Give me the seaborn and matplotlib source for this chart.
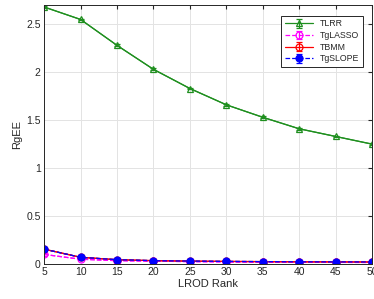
import matplotlib
matplotlib.use("Agg")

import matplotlib.pyplot as plt
import numpy as np
import pandas as pd
import seaborn as sns

ranks = [5, 10, 15, 20, 25, 30, 35, 40, 45, 50]
tlrr = [2.68, 2.55, 2.28, 2.03, 1.83, 1.66, 1.53, 1.41, 1.33, 1.25]
tglasso = [0.10, 0.05, 0.035, 0.03, 0.025, 0.022, 0.02, 0.018, 0.017, 0.016]
tbmm = [0.155, 0.07, 0.045, 0.035, 0.03, 0.027, 0.025, 0.023, 0.022, 0.021]
tgslope = [0.155, 0.07, 0.045, 0.035, 0.03, 0.027, 0.025, 0.023, 0.022, 0.021]
err = [0.012, 0.01, 0.01, 0.01, 0.01, 0.01, 0.01, 0.01, 0.01, 0.01]

series = [
    ("TLRR", tlrr, "#1f8f1f", "-", "^", "none"),
    ("TgLASSO", tglasso, "#ff00ff", "--", "o", "none"),
    ("TBMM", tbmm, "#ff0000", "-", "o", "none"),
    ("TgSLOPE", tgslope, "#0000ff", "--", "o", "full"),
]

sns.set_style("whitegrid")
plt.rcParams['font.family'] = ['Liberation Sans', 'DejaVu Sans']

fig = plt.figure(figsize=(3.74, 2.99), dpi=100)
ax = fig.add_axes([0.118, 0.117, 0.877, 0.866])

for name, vals, color, ls, mk, fill in series:
    df = pd.DataFrame({"rank": ranks, "val": vals})
    sns.lineplot(data=df, x="rank", y="val", ax=ax, color=color, linewidth=0.9,
                 linestyle=ls, legend=False)
    ax.errorbar(ranks, vals, yerr=err, color=color, linestyle=ls, linewidth=0.9,
                marker=mk, markersize=5, fillstyle=fill, markeredgewidth=0.9,
                capsize=2, elinewidth=0.9, label=name)

ax.set_xlim(5, 50)
ax.set_ylim(0, 2.7)
ax.set_xticks(ranks)
ax.set_yticks([0, 0.5, 1, 1.5, 2, 2.5])
ax.set_yticklabels(["0", "0.5", "1", "1.5", "2", "2.5"])
ax.set_xlabel("LROD Rank", fontsize=8, labelpad=1, color="#262626")
ax.set_ylabel("RgEE", fontsize=8, labelpad=3, color="#262626")
ax.tick_params(labelsize=7.5, direction="in", length=3, colors="#262626", pad=2.5,
               top=True, right=True)
ax.grid(True, color="#e3e3e3", linewidth=0.7)
for s in ax.spines.values():
    s.set_color("#262626")
    s.set_linewidth(0.7)
    s.set_visible(True)

leg = ax.legend(loc="upper right", fontsize=6.3, frameon=True, fancybox=False,
                edgecolor="#262626", framealpha=1, borderpad=0.4, labelspacing=0.3,
                handlelength=3.2, bbox_to_anchor=(0.985, 0.975))
leg.get_frame().set_linewidth(0.7)

plt.savefig("out.png", dpi=100)
